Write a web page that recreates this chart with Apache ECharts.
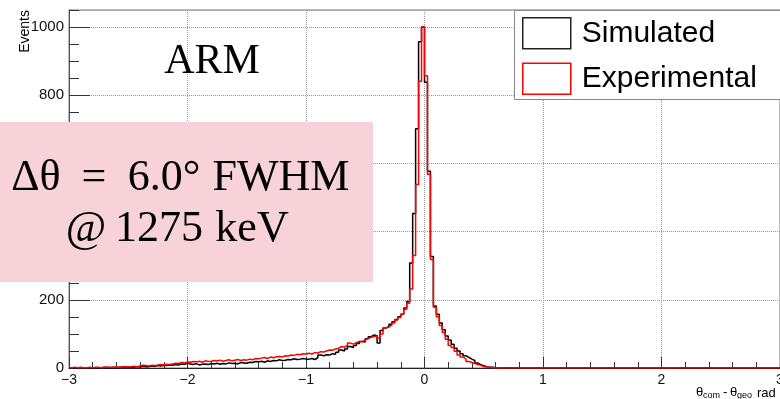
<!DOCTYPE html>
<html>
<head>
<meta charset="utf-8">
<script src="https://cdn.jsdelivr.net/npm/echarts@6/dist/echarts.min.js"></script>
<style>
  html, body { margin: 0; padding: 0; background: #fff; }
  #chart { width: 780px; height: 399px; }
</style>
</head>
<body>
<div id="chart"></div>
<script>
// Histogram binning: 240 bins of 0.025 rad over [-3, 3]
const xMin = -3;
const xMax = 3;
const binWidth = 0.025;

const yMin = 0;
const yMax = 1050;
const yTickStep = 200;
const xTickStep = 1;

const seriesNames = ['Simulated', 'Experimental'];

// Bin contents, left to right
const simulated = [
  0,0,1,0,0,1,0,1,1,0,1,2,1,1,2,1,2,3,2,2,
  3,2,4,3,5,4,4,6,5,7,6,8,7,9,8,10,9,12,11,14,
  12,10,13,9,11,12,10,13,12,14,11,13,12,15,13,14,12,16,15,14,
  17,16,19,18,20,17,21,19,22,21,24,22,23,25,24,27,25,26,28,26,
  26,28,25,30,38,36,39,38,42,40,46,53,50,56,63,60,66,72,78,76,
  86,92,97,95,73,110,117,121,128,136,142,150,158,176,195,308,453,702,957,1000,
  838,577,327,182,158,132,112,94,82,70,58,50,42,36,31,26,22,15,10,7,
  4,2,2,1,1,1,0,1,0,0,0,0,0,0,0,0,0,0,0,0,
  0,0,0,0,0,0,0,0,0,0,0,0,0,0,0,0,0,0,0,0,
  0,0,0,0,0,0,0,0,0,0,0,0,0,0,0,0,0,0,0,0,
  0,0,0,0,0,0,0,0,0,0,0,0,0,0,0,0,0,0,0,0,
  0,0,0,0,0,0,0,0,0,0,0,0,0,0,0,0,0,0,0,0
];

const experimental = [
  1,2,1,2,1,1,2,1,2,2,1,2,3,2,2,3,2,3,4,3,
  4,5,4,6,8,7,6,8,7,9,10,9,11,10,12,14,13,16,15,18,
  17,19,18,20,17,21,19,20,22,21,23,20,22,24,21,23,25,22,24,23,
  26,24,28,27,29,31,28,32,30,33,34,32,36,35,38,37,40,39,42,41,
  43,41,45,44,48,47,50,53,52,56,58,63,61,66,73,70,74,78,77,82,
  86,90,92,94,88,100,118,121,126,132,141,148,158,172,190,232,330,538,841,1000,
  857,568,318,178,150,125,104,84,66,60,49,38,32,27,19,16,13,10,8,4,
  3,2,1,1,0,1,0,0,0,0,0,0,0,0,0,0,0,0,0,0,
  0,0,0,0,0,0,0,0,0,0,0,0,0,0,0,0,0,0,0,0,
  0,0,0,0,0,0,0,0,0,0,0,0,0,0,0,0,0,0,0,0,
  0,0,0,0,0,0,0,0,0,0,0,0,0,0,0,0,0,0,0,0,
  0,0,0,0,0,0,0,0,0,0,0,0,0,0,0,0,0,0,0,0
];

// Turn bin contents into step outline points (left edge of each bin + closing right edge)
function histOutline(vals) {
  const pts = vals.map((v, i) => [xMin + i * binWidth, v]);
  pts.push([xMax, vals[vals.length - 1]]);
  return pts;
}

const SANS = '"Liberation Sans", Arial, Helvetica, sans-serif';
const SERIF = '"Liberation Serif", "Times New Roman", serif';
const AXIS_COLOR = '#333';

const chart = echarts.init(document.getElementById('chart'), null, { renderer: 'canvas' });

const minus = v => (v < 0 ? '\u2212' + Math.abs(v) : String(v));

function txt(x, y, text, size, family, align, extra) {
  return Object.assign({
    type: 'text', x: x, y: y, z: 100,
    style: {
      text: text, fontSize: size, fontFamily: family, fill: '#000',
      align: align || 'center', verticalAlign: 'middle'
    }
  }, extra || {});
}

chart.setOption({
  animation: false,
  backgroundColor: '#fff',
  grid: {
    left: 69, top: 10, width: 711, height: 358,
    outerBoundsMode: 'none', containLabel: false,
    show: true, borderColor: '#777', borderWidth: 1, backgroundColor: 'transparent'
  },
  legend: {
    orient: 'vertical',
    left: 514, top: 10,
    padding: [7, 10, 7, 8],
    itemWidth: 48, itemHeight: 31, itemGap: 13,
    selectedMode: false,
    icon: 'rect',
    textStyle: { fontFamily: SANS, fontSize: 30, color: '#000', padding: [0, 0, 0, 6] },
    data: [
      { name: seriesNames[0], itemStyle: { color: 'rgba(0,0,0,0)', borderColor: '#222', borderWidth: 1.5 } },
      { name: seriesNames[1], itemStyle: { color: 'rgba(0,0,0,0)', borderColor: '#f00', borderWidth: 1.5 } }
    ],
    z: 20
  },
  xAxis: [
    {
      type: 'value', position: 'bottom',
      min: xMin, max: xMax, interval: xTickStep,
      axisLine: { show: true, onZero: false, lineStyle: { color: '#222', width: 1 } },
      axisTick: { show: true, inside: true, length: 11, lineStyle: { color: AXIS_COLOR } },
      splitLine: { show: true, lineStyle: { type: 'dotted', color: '#999', width: 1 } },
      axisLabel: { formatter: minus, fontFamily: SANS, fontSize: 14, color: '#111', margin: 5 }
    },
    {
      type: 'value', position: 'bottom',
      min: xMin, max: xMax, interval: 0.2,
      axisLine: { show: false, onZero: false },
      axisTick: { show: true, inside: true, length: 6, lineStyle: { color: AXIS_COLOR } },
      splitLine: { show: false },
      axisLabel: { show: false }
    }
  ],
  yAxis: [
    {
      type: 'value', position: 'left',
      min: yMin, max: yMax, interval: yTickStep,
      axisLine: { show: true, onZero: false, lineStyle: { color: '#555', width: 1 } },
      axisTick: { show: true, inside: true, length: 21, lineStyle: { color: AXIS_COLOR } },
      splitLine: { show: true, lineStyle: { type: 'dotted', color: '#999', width: 1 } },
      axisLabel: { showMaxLabel: false, formatter: v => String(v), fontFamily: SANS, fontSize: 15, color: '#111', margin: 5 }
    },
    {
      type: 'value', position: 'left',
      min: yMin, max: yMax, interval: 50,
      axisLine: { show: false, onZero: false },
      axisTick: { show: true, inside: true, length: 10, lineStyle: { color: AXIS_COLOR } },
      splitLine: { show: false },
      axisLabel: { show: false }
    }
  ],
  series: [
    {
      name: seriesNames[0], type: 'line', step: 'end',
      xAxisIndex: 0, yAxisIndex: 0,
      data: histOutline(simulated),
      symbol: 'none', clip: true,
      lineStyle: { color: '#000', width: 1.5 },
      itemStyle: { color: '#000' },
      z: 5
    },
    {
      name: seriesNames[1], type: 'line', step: 'end',
      xAxisIndex: 0, yAxisIndex: 0,
      data: histOutline(experimental),
      symbol: 'none', clip: true,
      lineStyle: { color: '#f00', width: 1.5 },
      itemStyle: { color: '#f00' },
      z: 6
    }
  ],
  graphic: [
    // legend frame, running off the right edge
    {
      type: 'rect', z: 10,
      shape: { x: 514.5, y: 10.5, width: 320, height: 89 },
      style: { fill: '#fff', stroke: '#888', lineWidth: 1 }
    },
    // y axis title
    txt(25, 10, 'Events', 14, SANS, 'right', { rotation: Math.PI / 2 }),
    // x axis title: θ_com - θ_geo  rad
    txt(696, 392, 'θ', 13, SANS, 'left'),
    txt(703, 396, 'com', 9, SANS, 'left'),
    txt(723, 392, '-', 13, SANS, 'left'),
    txt(730, 392, 'θ', 13, SANS, 'left'),
    txt(737, 396, 'geo', 9, SANS, 'left'),
    txt(757, 393, 'rad', 13, SANS, 'left'),
    // plot label
    txt(212, 62, 'ARM', 42, SERIF, 'center'),
    // resolution box
    {
      type: 'rect', z: 90,
      shape: { x: 0, y: 122, width: 373, height: 160 },
      style: { fill: '#f7d2d8' }
    },
    txt(36, 178, 'Δθ', 44, SERIF, 'center'),
    txt(94, 178, '=', 44, SERIF, 'center'),
    txt(164, 178, '6.0°', 44, SERIF, 'center'),
    txt(281, 178, 'FWHM', 44, SERIF, 'center'),
    txt(86, 229, '@', 44, SERIF, 'center'),
    txt(159, 229, '1275', 44, SERIF, 'center'),
    txt(252, 229, 'keV', 44, SERIF, 'center')
  ]
});
</script>
</body>
</html>
